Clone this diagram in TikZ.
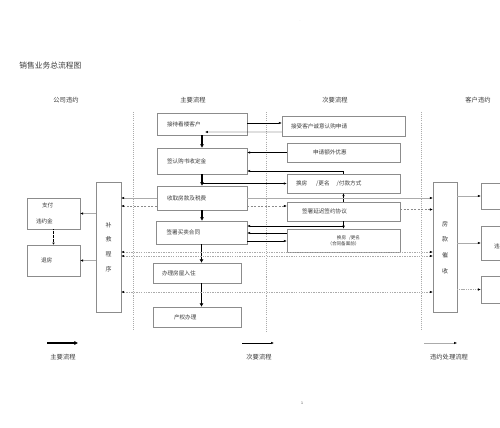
\documentclass[tikz,border=0pt]{standalone}
\usepackage{fontspec}
\setmainfont{Noto Sans CJK SC}
\usetikzlibrary{arrows.meta}
\definecolor{boxgray}{HTML}{8C8C8C}
\definecolor{linegray}{HTML}{ABABAB}
\definecolor{txtgray}{HTML}{3A3A3A}

\begin{document}
\begin{tikzpicture}[x=0.05cm, y=-0.05cm,
    box/.style={draw=boxgray, line width=0.6pt, text=txtgray, inner
      sep=0pt, font=\fontsize{8}{10}\selectfont},
    mainbox/.style={box, minimum width=4.5cm, text width=3.5cm,
      align=left},
    subbox/.style={box, minimum width=5.65cm, minimum height=0.95cm,
      text width=4.75cm, align=left},
    sidebox/.style={box, minimum width=2.65cm, minimum height=1.55cm,
      text width=1.75cm, align=left},
    tallbox/.style={box, minimum width=1.25cm, minimum height=6.5cm,
      align=center},
    head/.style={text=txtgray, font=\fontsize{9}{10}\selectfont},
    main/.style={line width=2pt, -{Latex[length=5pt,width=6pt]}},
    sub/.style={line width=0.6pt, -{Latex[length=4pt,width=3.2pt]}},
    vio/.style={draw=linegray, line width=0.5pt,
      -{Latex[length=4pt,width=3.2pt,color=black]}},
    viod/.style={vio, draw=boxgray, dash pattern=on 3pt off 2pt},
    viol/.style={vio, dash pattern=on 2pt off 1.5pt,
      {Latex[length=4pt,width=3.2pt,color=black]}-{Latex[length=4pt,width=3.2pt,color=black]}},
    sep/.style={draw=linegray, line width=0.5pt, dash pattern=on 1.5pt
      off 1.5pt}]
  \useasboundingbox (0,0) rectangle (500,427);

  \node[anchor=west, text=txtgray, font=\fontsize{11}{12}\selectfont]
  (title) at (17,66) {销售业务总流程图};
  \node[font=\tiny, text=linegray] (dot) at (300,21) {.};
  \node[font=\fontsize{5}{6}\selectfont, text=txtgray] (page) at
  (302,403) {1};

  \begin{scope}[every node/.style={head}]
    \node (h1) at (66,100) {公司违约}; \node (h2) at (193,100)
    {主要流程}; \node (h3) at (335,100) {次要流程}; \node (h4) at
    (478,100) {客户违约};
  \end{scope}

  \draw[sep] (133,112) -- (133,330); \draw[sep] (266,112) --
  (266,333); \draw[sep] (421,112) -- (421,330);

  \begin{scope}[every node/.style={mainbox}]
    \node[minimum height=1.1cm] (jd) at (202,124) {接待看楼客户};
    \node[minimum height=1.3cm] (qr) at (202,161) {签认购书收定金};
    \node[minimum height=1.2cm] (sq) at (202,198) {收取房款及税费};
    \node[minimum height=1.15cm, minimum width=4.55cm] (ht) at
    (201.5,232.5) {签署买卖合同};
    \node[minimum height=1cm, minimum width=4.4cm] (rz) at (197,273)
    {办理房屋入住};
    \node[minimum height=1cm, minimum width=4.4cm] (cq) at (197,317)
    {\hspace*{0.6cm}产权办理};
  \end{scope}

  \begin{scope}[every node/.style={subbox}]
    \node[minimum width=6.15cm, text width=5.25cm, minimum
    height=1cm] (js) at (343.5,126) {接受客户诚意认购申请};
    \node (yh) at (343.5,152.5) {\hspace*{0.85cm}申请额外优惠};
    \node (hf) at (343.5,183.5)
    {换房\hspace{0.45cm}/更名\hspace{0.35cm}/付款方式};
    \node (yc) at (343.5,211.5) {\hspace*{0.3cm}签署延迟签约协议};
    \node[minimum height=1.15cm, text width=5.65cm, align=center,
    font=\fontsize{6.5}{8}\selectfont] (gm) at (343.5,240.5)
    {\hspace*{0.5cm}换房 \ /更名\\（合同备案前）};
  \end{scope}

  \begin{scope}[every node/.style={sidebox}]
    \node[font=\fontsize{8}{22.5}\selectfont] (zf) at (53.5,213.5)
    {\hspace*{0.3cm}支付\\违约金};
    \node (tf) at (53.5,260.5) {\hspace*{0.25cm}退房};
  \end{scope}

  \begin{scope}[every node/.style={tallbox}]
    \node[font=\fontsize{8.5}{21}\selectfont] (bj) at (108.5,247)
    {补\\救\\程\\序};
    \node[minimum width=1.2cm, font=\fontsize{8.5}{22.5}\selectfont]
    (cs) at (445,247.5) {房\\款\\催\\收};
  \end{scope}

  \begin{scope}[every node/.style={box, minimum width=3cm}]
    \node[minimum height=1.3cm] (k1) at (511,196) {};
    \node[minimum height=1.7cm, text width=1.7cm, align=left,
    font=\fontsize{8}{16}\selectfont] (k2) at (511,243) {\mbox{}\\违};
    \node[minimum height=1.35cm] (k3) at (511,289.5) {};
  \end{scope}

  \coordinate (jdin) at (205,132); \coordinate (yj) at (343.5,226);
  \coordinate (v1) at (201.5,252); \coordinate (v2) at (201.5,256);
  \coordinate (v3) at (201.5,292);

  \begin{scope}[main]
    \draw (jd) -- (qr); \draw (qr) -- (sq); \draw (sq.south) --
    (sq.south |- ht.north); \draw (ht.south) -- (ht.south |-
    rz.north); \draw (ht.south |- rz.south) -- (ht.south |-
    cq.north);
  \end{scope}

  \begin{scope}[sub]
    \draw ([yshift=0.05cm]jd.east) -- ([yshift=0.05cm]jd.east -|
    js.west); \draw ([yshift=-0.3cm]js.west) -- (jdin);
    \draw[{Latex[length=4pt,width=3.2pt]}-] (qr.east |- yh.west) --
    (yh.west);
    \draw (hf.north) |- ([yshift=-0.5cm]qr.east); \draw (qr.south |-
    hf) -- (hf);
    \draw (yc) -- (hf); \draw (yc) -- (gm); \draw (yj) -- (yj -|
    ht.east);
    \draw ([yshift=0.375cm]gm.west) -- ([yshift=0.375cm]gm.west -|
    ht.east); \draw ([yshift=-0.425cm]ht.east) --
    ([yshift=-0.425cm]ht.east -| gm.west);
  \end{scope}
  \fill (yj) circle (1.1);

  \draw[vio] (sq.west) -- (sq.west -| bj.east); \draw[vio] (sq.east)
  -- (sq.east -| cs.west);
  \draw[viod] ([yshift=-0.4cm]sq.west) -- ([yshift=-0.4cm]sq.west -|
  bj.east); \draw[viod] ([yshift=-0.4cm]sq.east) --
  ([yshift=-0.4cm]sq.east -| yc.west); \draw[viod]
  ([yshift=0.1cm]yc.east) -- ([yshift=0.1cm]yc.east -| cs.west);
  \draw[viol] (v1 -| bj.east) -- (v1 -| cs.west); \draw[viol] (v2 -|
  bj.east) -- (v2 -| cs.west); \draw[viol] (v3 -| bj.east) -- (v3 -|
  cs.west);

  \draw[vio] (zf.east -| bj.west) -- (zf.east); \draw[vio] (tf.east
  -| bj.west) -- (tf.east);
  \draw[densely dotted, line width=0.9pt,
  -{Latex[length=3pt,width=3.5pt]}] (zf.south) -- (tf.north);
  \draw[vio] (k1.west -| cs.east) -- (k1.west); \draw[vio] (k2.west
  -| cs.east) -- (k2.west); \draw[vio, dash pattern=on 1.5pt off
  1pt] (k3.west -| cs.east) -- (k3.west);

  \coordinate (la) at (47,343); \coordinate (lb) at (78,343);
  \coordinate (lc) at (242,343); \coordinate (ld) at (274,343);
  \coordinate (le) at (424,343); \coordinate (lf) at (457,343);
  \draw[main, line width=1.6pt] (la) -- (lb); \draw[sub] (lc) --
  (ld); \draw[vio] (le) -- (lf);
  \begin{scope}[every node/.style={head}]
    \node (l1) at (63,357) {主要流程}; \node (l2) at (259,357)
    {次要流程}; \node (l3) at (449,357) {违约处理流程};
  \end{scope}
\end{tikzpicture}
\end{document}
